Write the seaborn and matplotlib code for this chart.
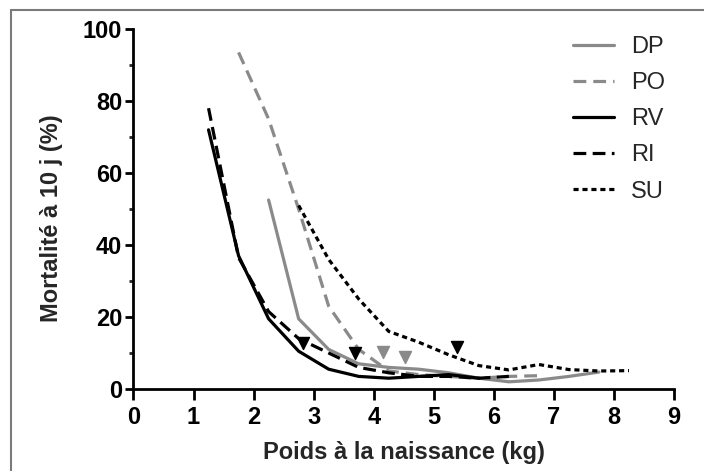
import numpy as np
import pandas as pd
import seaborn as sns
import matplotlib.pyplot as plt
from matplotlib.patches import Rectangle
from matplotlib.ticker import MultipleLocator

# mortality at 10 days (%) by birth weight class (kg)
dp_x = [2.25, 2.75, 3.25, 3.75, 4.25, 4.75, 5.25, 5.75, 6.25, 6.75, 7.25, 7.75]
dp_y = [52.5, 19.5, 11.0, 7.0, 6.0, 5.5, 4.5, 3.0, 2.0, 2.5, 3.5, 4.7]

po_x = [1.75, 2.25, 2.75, 3.25, 3.75, 4.25, 4.75, 5.25, 5.75, 6.25, 6.75]
po_y = [93.5, 75.0, 50.0, 23.0, 11.0, 5.0, 4.0, 3.5, 3.0, 3.5, 3.7]

rv_x = [1.25, 1.75, 2.25, 2.75, 3.25, 3.75, 4.25, 4.75, 5.25, 5.75]
rv_y = [72.0, 37.0, 19.5, 10.5, 5.5, 3.5, 3.0, 3.5, 4.0, 3.0]

ri_x = [1.25, 1.75, 2.25, 2.75, 3.25, 3.75, 4.25, 4.75, 5.25, 5.75, 6.25]
ri_y = [78.0, 36.5, 21.5, 14.0, 10.0, 6.0, 4.5, 3.5, 3.5, 3.0, 3.5]

su_x = [2.75, 3.25, 3.75, 4.25, 4.75, 5.25, 5.75, 6.25, 6.75, 7.25, 7.75, 8.25]
su_y = [51.0, 36.0, 25.0, 16.0, 13.0, 9.5, 6.5, 5.3, 6.8, 5.4, 5.0, 5.1]

# triangles marking thresholds
tri_black_x = [2.83, 3.69, 5.39]
tri_black_y = [12.7, 9.9, 11.8]
tri_grey_x = [4.16, 4.52]
tri_grey_y = [10.4, 9.0]

groups = ["DP", "PO", "RV", "RI", "SU"]
frames = []
for g, xs, ys in zip(groups, [dp_x, po_x, rv_x, ri_x, su_x], [dp_y, po_y, rv_y, ri_y, su_y]):
    frames.append(pd.DataFrame({"poids": xs, "mort": ys, "race": g}))
df = pd.concat(frames, ignore_index=True)

grey = "#8a8a8a"
palette = {"DP": grey, "PO": grey, "RV": "black", "RI": "black", "SU": "black"}
dashes = {"DP": "", "PO": (4, 2.2), "RV": "", "RI": (4, 2), "SU": (1.6, 1.2)}

sns.set_style("ticks")
plt.rcParams["font.family"] = ["Liberation Sans", "DejaVu Sans"]

fig = plt.figure(figsize=(7.04, 4.71), dpi=100)
ax = fig.add_axes([0.1896, 0.1741, 0.7678, 0.7643])

sns.lineplot(data=df, x="poids", y="mort", hue="race", style="race",
             palette=palette, dashes=dashes, hue_order=groups, style_order=groups,
             linewidth=2.3, ax=ax, sort=False, estimator=None)

ax.scatter(tri_black_x, tri_black_y, marker="v", s=75, color="black", zorder=5)
ax.scatter(tri_grey_x, tri_grey_y, marker="v", s=75, color=grey, zorder=5)

ax.set_xlim(0, 9)
ax.set_ylim(0, 100)
ax.xaxis.set_major_locator(MultipleLocator(1))
ax.yaxis.set_major_locator(MultipleLocator(20))
ax.yaxis.set_minor_locator(MultipleLocator(10))
sns.despine(ax=ax)
for s in ["left", "bottom"]:
    ax.spines[s].set_linewidth(2)
    ax.spines[s].set_color("black")
ax.tick_params(axis="x", which="major", length=8, width=2, labelsize=17, pad=4, colors="black")
ax.tick_params(axis="y", which="major", length=6, width=2, labelsize=17, pad=2, colors="black")
ax.tick_params(axis="y", which="minor", length=3, width=2)
for lab in ax.get_xticklabels() + ax.get_yticklabels():
    lab.set_fontweight("bold")

ax.set_xlabel("Poids à la naissance (kg)", fontsize=17, fontweight="bold", labelpad=9)
ax.set_ylabel("Mortalité à 10 j (%)", fontsize=17, fontweight="bold")
ax.yaxis.set_label_coords(-0.13, 0.475)

leg = ax.legend(loc="upper right", bbox_to_anchor=(1.022, 1.04), frameon=False,
                fontsize=17, handlelength=1.75, labelspacing=0.6, handletextpad=0.7)
for line in leg.get_lines():
    line.set_linewidth(2.3)

fig.patches.append(Rectangle((11 / 704, -0.1), 2, 1 - 10 / 471 + 0.1,
                             transform=fig.transFigure, fill=False,
                             edgecolor="#7a7a7a", linewidth=1.5))

fig.savefig("out.png", dpi=100)
